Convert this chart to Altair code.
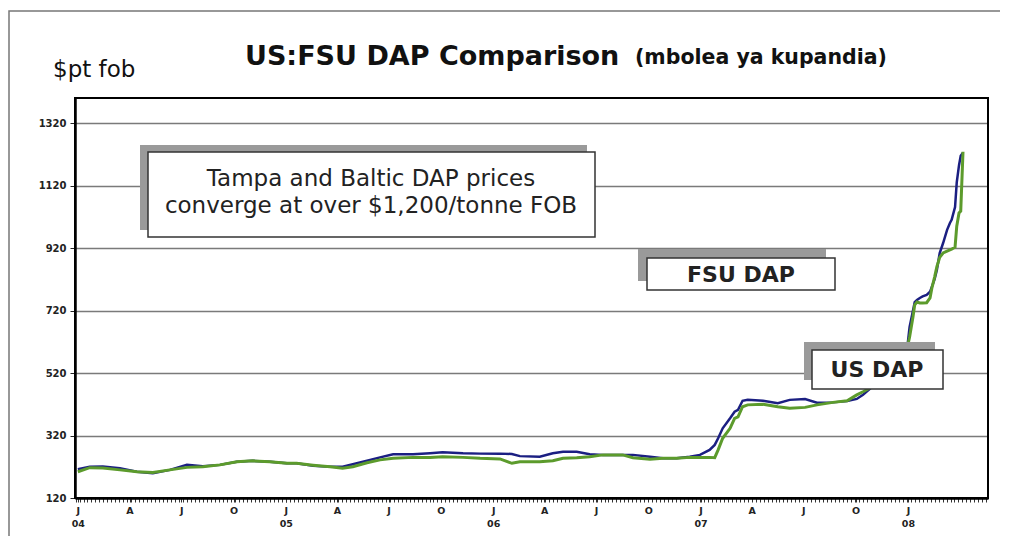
import altair as alt
import pandas as pd

# ---- data (DAP prices, $/t fob) ----
dates = [
    "2004-01-01", "2004-01-22", "2004-02-14", "2004-03-15", "2004-04-14", "2004-05-12",
    "2004-06-11", "2004-07-11", "2004-08-08", "2004-09-07", "2004-10-07", "2004-11-04",
    "2004-12-04", "2005-01-03", "2005-01-20", "2005-02-18", "2005-03-20", "2005-04-11",
    "2005-04-29", "2005-05-24", "2005-06-16", "2005-07-09", "2005-08-13", "2005-09-12",
    "2005-10-04", "2005-11-09", "2005-12-09", "2006-01-13", "2006-02-03", "2006-02-17",
    "2006-03-24", "2006-04-16", "2006-05-04", "2006-05-28", "2006-06-20", "2006-07-13",
    "2006-08-17", "2006-09-04", "2006-10-04", "2006-10-27", "2006-11-20", "2006-12-13",
    "2006-12-31", "2007-01-17", "2007-01-26", "2007-02-01", "2007-02-09", "2007-02-22",
    "2007-03-02", "2007-03-08", "2007-03-16", "2007-03-25", "2007-04-21", "2007-05-17",
    "2007-06-07", "2007-07-04", "2007-07-25", "2007-08-22", "2007-09-16", "2007-10-03",
    "2007-10-14", "2007-10-30", "2007-11-21", "2007-12-14", "2007-12-27", "2008-01-01",
    "2008-01-04", "2008-01-10", "2008-01-13", "2008-01-17", "2008-01-22", "2008-01-27",
    "2008-02-03", "2008-02-09", "2008-02-12", "2008-02-17", "2008-02-21", "2008-02-26",
    "2008-03-03", "2008-03-10", "2008-03-15", "2008-03-18", "2008-03-24", "2008-03-27",
    "2008-03-31", "2008-04-03", "2008-04-07",
]
us_dap = [
    212, 220, 221, 215, 204, 199, 210, 226, 222, 226, 236, 239,
    236, 231, 231, 223, 220, 220, 228, 239, 250, 260, 260, 263,
    266, 263, 262, 262, 261, 254, 252, 263, 268, 268, 260, 258,
    258, 258, 252, 247, 247, 252, 258, 274, 290, 311, 343, 375,
    396, 402, 431, 434, 431, 423, 434, 437, 425, 426, 430, 437,
    450, 476, 520, 560, 600, 619, 667, 720, 747, 754, 760, 765,
    770, 780, 795, 820, 850, 904, 936, 978, 1000, 1010, 1051, 1130,
    1185, 1215, 1225,
]
fsu_dap = [
    204, 217, 216, 210, 204, 202, 210, 218, 220, 226, 236, 239,
    236, 231, 231, 225, 220, 215, 220, 233, 242, 247, 250, 250,
    252, 250, 247, 245, 231, 236, 236, 239, 247, 249, 252, 258,
    258, 249, 244, 247, 247, 250, 250, 250, 249, 274, 311, 343,
    375, 380, 412, 418, 420, 412, 407, 410, 418, 426, 431, 450,
    460, 476, 515, 555, 590, 610, 635, 700, 738, 747, 744, 744,
    745, 760, 790, 827, 860, 890, 904, 910, 914, 916, 923, 990,
    1032, 1038, 1228,
]

y_ticks = [120, 320, 520, 720, 920, 1120, 1320]
quarter_ticks = [
    "2004-01-01", "2004-04-01", "2004-07-01", "2004-10-01",
    "2005-01-01", "2005-04-01", "2005-07-01", "2005-10-01",
    "2006-01-01", "2006-04-01", "2006-07-01", "2006-10-01",
    "2007-01-01", "2007-04-01", "2007-07-01", "2007-10-01",
    "2008-01-01",
]
last_labelled = "2008-01-01"

FONT = "DejaVu Sans"


def ms(s):
    return int(pd.Timestamp(s, tz="UTC").value // 10**6)


quarter_ms = [ms(d) for d in quarter_ticks]
weekly_ms = [ms(d) for d in pd.date_range("2003-12-28", "2008-05-20", freq="7D")]
tick_values = sorted(set(quarter_ms) | set(weekly_ms))

df = pd.DataFrame({"date": dates, "us": us_dap, "fsu": fsu_dap})

W, H = 913, 400

x_scale = alt.Scale(type="utc", domain=[ms("2003-12-27"), ms("2008-05-21")], nice=False)
y_scale = alt.Scale(domain=[120, 1400], nice=False, zero=False)

label_expr = (
    "utcdate(datum.value) != 1 || utcmonth(datum.value) % 3 != 0 "
    f"|| time(datum.value) > {ms(last_labelled)} ? '' : "
    "utcmonth(datum.value) == 0 ? ['J', utcFormat(datum.value, '%y')] : "
    "utcmonth(datum.value) == 3 ? 'A' : utcmonth(datum.value) == 6 ? 'J' : 'O'"
)

x_axis = alt.Axis(
    values=tick_values, labelExpr=label_expr, title=None, grid=False,
    labelFont=FONT, labelFontWeight="bold", labelFontSize=9.5, labelColor="#222",
    labelLineHeight=13, labelPadding=3, labelOverlap=False, labelFlush=False,
    tickSize=4, tickColor="#333", tickWidth=1,
    domainColor="black", domainWidth=2.5,
)
y_axis = alt.Axis(
    values=y_ticks, format="d", title=None, grid=True, gridColor="#7a7a7a", gridWidth=1.5,
    labelFont=FONT, labelFontWeight="bold", labelFontSize=10, labelColor="#222",
    labelPadding=4, tickSize=5, tickColor="#222", tickWidth=1,
    domainColor="black", domainWidth=2.5,
)

blue = alt.Chart(df).mark_line(color="#1b1f82", strokeWidth=2.5).encode(
    x=alt.X("date:T", scale=x_scale, axis=x_axis),
    y=alt.Y("us:Q", scale=y_scale, axis=y_axis),
)
green = alt.Chart(df).mark_line(color="#5c9b2c", strokeWidth=3).encode(
    x=alt.X("date:T", scale=x_scale, axis=x_axis),
    y=alt.Y("fsu:Q", scale=y_scale, axis=y_axis),
)

one = pd.DataFrame({"k": [0]})


def rect(x, x2, y, y2, **kw):
    return alt.Chart(one).mark_rect(**kw).encode(
        x=alt.value(x), x2=alt.value(x2), y=alt.value(y), y2=alt.value(y2)
    )


def label(txt, x, y, **kw):
    return alt.Chart(one).mark_text(text=txt, font=FONT, **kw).encode(
        x=alt.value(x), y=alt.value(y)
    )


frame = rect(-66, W + 40, -87, H + 60, fill="transparent", stroke="#777", strokeWidth=1.5)
plot_border = rect(0, W, 0, H, fill="transparent", stroke="black", strokeWidth=2)

SHADOW = "#9a9a9a"
BORDER = "#333"
box_a_sh = rect(65, 512, 47, 132, fill=SHADOW)
box_a = rect(73, 520, 54, 139, fill="white", stroke=BORDER, strokeWidth=1.5)
txt_a1 = label("Tampa and Baltic DAP prices", 296, 88, align="center", baseline="alphabetic",
               fontSize=23, color="#222")
txt_a2 = label("converge at over $1,200/tonne FOB", 296, 115, align="center", baseline="alphabetic",
               fontSize=23, color="#222")

box_f_sh = rect(563, 751, 151, 183, fill=SHADOW)
box_f = rect(572, 760, 160, 192, fill="white", stroke=BORDER, strokeWidth=1.5)
txt_f = label("FSU DAP", 666, 184, align="center", baseline="alphabetic",
              fontSize=22, fontWeight="bold", color="#222")

box_u_sh = rect(729, 860, 244, 282, fill=SHADOW)
box_u = rect(737, 868, 252, 291, fill="white", stroke=BORDER, strokeWidth=1.5)
txt_u = label("US DAP", 802, 279, align="center", baseline="alphabetic",
              fontSize=22, fontWeight="bold", color="#222")

title1 = label("US:FSU DAP Comparison", 170, -33, align="left", baseline="alphabetic",
               fontSize=27, fontWeight="bold", color="#111")
title2 = label("(mbolea ya kupandia)", 560, -34, align="left", baseline="alphabetic",
               fontSize=20.5, fontWeight="bold", color="#111")
unit = label("$pt fob", -22, -21, align="left", baseline="alphabetic",
             fontSize=23, color="#111")

chart = alt.layer(
    frame, blue, green, plot_border,
    box_a_sh, box_a, txt_a1, txt_a2,
    box_f_sh, box_f, txt_f,
    box_u_sh, box_u, txt_u,
    title1, title2, unit,
).properties(
    width=W, height=H,
    autosize=alt.AutoSizeParams(type="none"),
    padding={"left": 67, "top": 90, "right": 12, "bottom": 38},
    background="white",
).configure_view(stroke="black", strokeWidth=2).configure(font=FONT)

chart.save("out.html", embed_options={"renderer": "svg", "actions": False})
